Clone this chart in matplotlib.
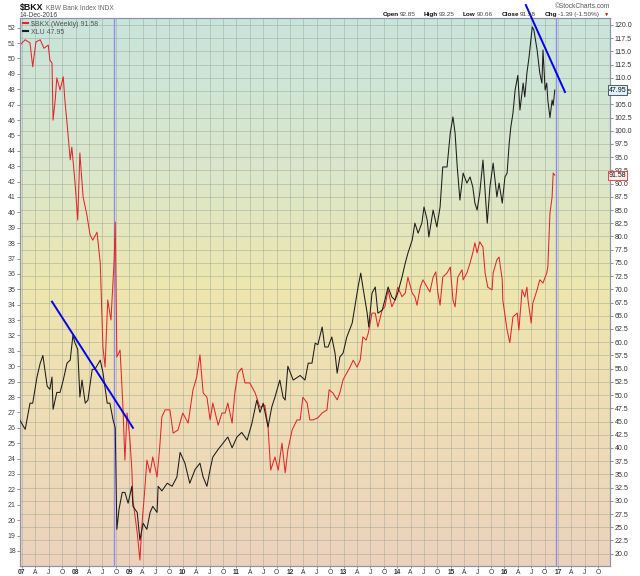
import numpy as np
import matplotlib.pyplot as plt
import matplotlib.transforms as mtransforms
from matplotlib.colors import LinearSegmentedColormap
from matplotlib.lines import Line2D
from matplotlib.ticker import FormatStrFormatter

plt.rcParams['font.family'] = ['Liberation Sans', 'DejaVu Sans']

# XLU (black, left scale)
xlu_t = [2006.96, 2007.06, 2007.15, 2007.20, 2007.28, 2007.34, 2007.39, 2007.47, 2007.52, 2007.56,
         2007.58, 2007.65, 2007.71, 2007.77, 2007.84, 2007.90, 2007.95, 2007.99, 2008.04, 2008.08,
         2008.12, 2008.18, 2008.23, 2008.31, 2008.36, 2008.46, 2008.51, 2008.59, 2008.64, 2008.70,
         2008.74, 2008.77, 2008.81, 2008.87, 2008.92, 2008.98, 2009.05, 2009.07, 2009.15, 2009.20,
         2009.26, 2009.33, 2009.39, 2009.44, 2009.52, 2009.54, 2009.61, 2009.71, 2009.80, 2009.89,
         2009.95, 2010.04, 2010.13, 2010.23, 2010.32, 2010.38, 2010.45, 2010.51, 2010.56, 2010.66,
         2010.75, 2010.84, 2010.92, 2011.01, 2011.10, 2011.20, 2011.29, 2011.38, 2011.44, 2011.50,
         2011.59, 2011.66, 2011.72, 2011.81, 2011.87, 2011.91, 2011.96, 2012.06, 2012.19, 2012.28,
         2012.34, 2012.41, 2012.47, 2012.52, 2012.60, 2012.65, 2012.71, 2012.78, 2012.84, 2012.88,
         2012.93, 2012.99, 2013.06, 2013.16, 2013.21, 2013.27, 2013.32, 2013.36, 2013.44, 2013.47,
         2013.53, 2013.59, 2013.64, 2013.72, 2013.77, 2013.83, 2013.90, 2013.96, 2014.01, 2014.09,
         2014.15, 2014.20, 2014.28, 2014.33, 2014.39, 2014.46, 2014.50, 2014.56, 2014.59, 2014.67,
         2014.74, 2014.80, 2014.85, 2014.93, 2014.99, 2015.04, 2015.08, 2015.12, 2015.17, 2015.23,
         2015.30, 2015.36, 2015.41, 2015.45, 2015.49, 2015.54, 2015.60, 2015.68, 2015.73, 2015.79,
         2015.86, 2015.90, 2015.96, 2016.01, 2016.05, 2016.09, 2016.12, 2016.16, 2016.20, 2016.25,
         2016.29, 2016.35, 2016.38, 2016.42, 2016.46, 2016.52, 2016.55, 2016.61, 2016.66, 2016.70,
         2016.72, 2016.76, 2016.79, 2016.81, 2016.85, 2016.89, 2016.91, 2016.94]
xlu_v = [26.5, 25.9, 27.6, 27.6, 29.3, 30.2, 30.7, 28.7, 28.5, 29.3,
         27.2, 28.3, 28.3, 29.1, 30.2, 30.4, 32.0, 31.5, 31.1, 28.0,
         29.1, 27.6, 27.8, 29.8, 29.8, 30.4, 29.6, 27.6, 27.6, 26.5,
         26.0, 19.4, 20.7, 21.8, 21.8, 21.1, 22.2, 20.9, 20.5, 18.7,
         19.8, 19.4, 20.5, 20.9, 20.5, 22.2, 21.9, 22.4, 22.2, 22.8,
         24.4, 23.7, 22.4, 23.3, 23.7, 22.8, 22.2, 23.3, 24.1, 24.6,
         25.0, 25.4, 24.7, 25.4, 25.7, 25.2, 26.3, 27.8, 27.0, 27.6,
         26.05, 27.35, 28.0, 29.1, 28.0, 27.8, 30.0, 29.1, 29.4, 29.1,
         30.2, 30.2, 31.5, 31.4, 32.55, 31.25, 31.25, 31.9, 30.85, 29.55,
         30.6, 30.85, 31.9, 32.8, 33.85, 35.15, 36.05, 35.15, 33.45, 32.55,
         34.75, 35.15, 33.45, 33.65, 34.3, 35.15, 34.5, 34.3, 34.75, 35.8,
         36.7, 37.35, 38.2, 39.3, 38.65, 39.3, 40.35, 39.5, 38.4, 40.15,
         39.05, 40.35, 42.95, 42.95, 45.15, 46.2, 45.15, 42.95, 40.8, 42.55,
         41.9, 42.3, 41.65, 40.6, 40.15, 41.25, 43.4, 39.3, 41.65, 43.2,
         41.0, 41.9, 40.6, 42.3, 42.55, 44.5, 45.55, 46.45, 47.95, 48.9,
         46.65, 48.4, 47.5, 49.05, 50.1, 52.05, 51.85, 50.55, 49.05, 48.4,
         50.55, 47.95, 48.4, 47.3, 46.15, 47.3, 46.95, 47.95]

# $BKX weekly (red, right scale)
bkx_t = [2006.96, 2007.06, 2007.15, 2007.20, 2007.26, 2007.34, 2007.41, 2007.49, 2007.52, 2007.56,
         2007.58, 2007.62, 2007.65, 2007.71, 2007.77, 2007.80, 2007.84, 2007.90, 2007.93, 2007.99,
         2008.04, 2008.08, 2008.14, 2008.21, 2008.27, 2008.32, 2008.40, 2008.46, 2008.51, 2008.55,
         2008.60, 2008.66, 2008.72, 2008.74, 2008.77, 2008.83, 2008.88, 2008.92, 2008.96, 2009.01,
         2009.05, 2009.07, 2009.15, 2009.20, 2009.24, 2009.29, 2009.33, 2009.39, 2009.44, 2009.52,
         2009.57, 2009.61, 2009.67, 2009.76, 2009.82, 2009.91, 2010.00, 2010.10, 2010.19, 2010.26,
         2010.32, 2010.38, 2010.45, 2010.51, 2010.56, 2010.66, 2010.73, 2010.79, 2010.84, 2010.92,
         2010.97, 2011.03, 2011.10, 2011.16, 2011.25, 2011.35, 2011.44, 2011.53, 2011.59, 2011.64,
         2011.72, 2011.78, 2011.85, 2011.91, 2011.96, 2012.04, 2012.13, 2012.19, 2012.24, 2012.32,
         2012.37, 2012.43, 2012.52, 2012.60, 2012.69, 2012.73, 2012.80, 2012.88, 2012.93, 2012.99,
         2013.06, 2013.12, 2013.18, 2013.25, 2013.31, 2013.36, 2013.42, 2013.46, 2013.53, 2013.59,
         2013.64, 2013.72, 2013.77, 2013.83, 2013.90, 2013.96, 2014.01, 2014.09, 2014.15, 2014.20,
         2014.28, 2014.33, 2014.37, 2014.43, 2014.48, 2014.56, 2014.61, 2014.67, 2014.72, 2014.76,
         2014.80, 2014.85, 2014.93, 2014.99, 2015.04, 2015.08, 2015.13, 2015.21, 2015.23, 2015.30,
         2015.36, 2015.41, 2015.45, 2015.49, 2015.54, 2015.60, 2015.64, 2015.69, 2015.77, 2015.79,
         2015.86, 2015.90, 2015.96, 2015.97, 2016.05, 2016.10, 2016.16, 2016.24, 2016.27, 2016.33,
         2016.38, 2016.42, 2016.44, 2016.50, 2016.53, 2016.61, 2016.66, 2016.72, 2016.79, 2016.81,
         2016.85, 2016.89, 2016.91, 2016.94]
bkx_v = [116.2, 117.2, 116.6, 112.1, 116.8, 117.2, 115.6, 116.2, 113.4, 112.8,
         102.0, 105.8, 110.0, 107.7, 110.2, 105.8, 101.5, 94.5, 96.9, 90.1,
         83.1, 95.8, 87.5, 84.1, 80.3, 79.3, 80.8, 75.0, 59.1, 55.3,
         68.0, 64.2, 75.6, 82.7, 57.2, 58.5, 48.5, 37.7, 46.6, 42.1,
         35.8, 30.2, 23.9, 18.8, 25.8, 32.0, 37.7, 35.3, 38.3, 34.5,
         40.2, 45.9, 47.2, 47.2, 42.8, 43.4, 46.6, 44.7, 51.0, 53.4,
         57.6, 50.4, 49.6, 45.3, 48.5, 44.3, 46.6, 46.6, 48.5, 44.7,
         50.4, 54.2, 55.1, 52.3, 52.3, 50.4, 47.7, 48.1, 44.0, 35.8,
         38.3, 35.8, 40.9, 35.3, 39.6, 43.4, 45.3, 45.3, 49.6, 48.5,
         45.3, 45.3, 45.7, 46.6, 47.2, 51.0, 50.4, 49.1, 50.4, 52.9,
         54.2, 55.3, 56.6, 55.3, 56.6, 61.0, 60.4, 61.7, 65.5, 65.5,
         62.9, 66.1, 66.7, 69.9, 66.7, 68.0, 70.4, 68.6, 69.3, 72.3,
         69.3, 68.6, 67.0, 70.4, 71.8, 70.4, 69.5, 72.3, 73.3, 69.3,
         67.0, 72.3, 73.1, 74.2, 68.0, 66.7, 72.3, 73.7, 71.8, 73.1,
         75.0, 76.9, 78.8, 76.9, 79.0, 78.0, 73.1, 70.4, 69.9, 73.1,
         75.6, 76.1, 71.8, 68.0, 62.3, 59.9, 64.8, 65.5, 62.3, 69.9,
         68.6, 70.4, 68.0, 63.6, 67.4, 69.9, 71.8, 71.2, 73.1, 74.2,
         84.4, 87.5, 92.0, 91.6]

# trend lines (left scale) and marker dates
trend1_t = [2007.56, 2009.07]
trend1_v = [34.2, 26.0]
trend2_t = [2016.40, 2017.13]
trend2_v = [53.47, 47.82]
vline_dates = [2008.72, 2016.97]

xlu_last = 47.95
bkx_last = 91.58

quarters = 2007 + np.arange(44) * 0.25
qlabels = []
for i in range(44):
    if i % 4 == 0:
        qlabels.append('%02d' % (7 + i // 4))
    else:
        qlabels.append(['A', 'J', 'O'][i % 4 - 1])

W, H = 640, 576
fig = plt.figure(figsize=(W / 100, H / 100), dpi=100)
ax = fig.add_axes([20 / W, 1 - 566 / H, 590 / W, 548 / H])
axl = ax.twinx()
ax.yaxis.tick_right()
axl.yaxis.tick_left()

# background gradient
cmap = LinearSegmentedColormap.from_list('bg', [
    (0.0, '#c8e4dc'), (0.28, '#dbe7cb'), (0.5, '#eee6ae'),
    (0.75, '#efdcb6'), (1.0, '#ecd2bd')])
grad = np.linspace(0, 1, 256).reshape(-1, 1)
ax.imshow(grad, cmap=cmap, extent=[0, 1, 0, 1], transform=ax.transAxes,
          aspect='auto', origin='upper', zorder=0)

ax.set_xlim(2006.963, 2017.97)
ax.set_ylim(17.67, 121.32)
axl.set_ylim(17.02, 52.63)

ax.set_xticks(quarters)
ax.set_xticklabels(qlabels)
for i, lbl in enumerate(ax.get_xticklabels()):
    if i % 4 == 0:
        lbl.set_fontweight('bold')
ax.set_yticks(np.arange(20, 120.1, 2.5))
ax.yaxis.set_major_formatter(FormatStrFormatter('%.1f'))
axl.set_yticks(np.arange(18, 53, 1))

ax.grid(True, color='#9aa596', alpha=0.55, lw=0.6)
ax.tick_params(axis='y', labelsize=5, length=2, width=0.5, color='#666',
               pad=1.5, labelcolor='#333')
ax.tick_params(axis='x', labelsize=4.8, length=1.5, width=0.5, color='#666',
               pad=0.3, labelcolor='#333')
axl.tick_params(axis='y', labelsize=5, length=2, width=0.5, color='#666',
                pad=1, labelcolor='#444')
for a in (ax, axl):
    for s in a.spines.values():
        s.set_color('#8c94a8')
        s.set_linewidth(0.8)

for d in vline_dates:
    ax.axvline(d, color='#8e8ef0', lw=1, zorder=2)

ax.plot(bkx_t, bkx_v, color='#e3262b', lw=0.75, zorder=3)
axl.plot(xlu_t, xlu_v, color='#1c1c1c', lw=0.75, zorder=3)

axl.plot(trend1_t, trend1_v, color='#0000f0', lw=1.4, zorder=5)
axl.plot(trend2_t, trend2_v, color='#0000f0', lw=1.4, zorder=5, clip_on=False)

# last value boxes on the right scale
tr_l = mtransforms.blended_transform_factory(ax.transAxes, axl.transData)
tr_r = mtransforms.blended_transform_factory(ax.transAxes, ax.transData)
axl.text(0.998, xlu_last, '%.2f' % xlu_last, transform=tr_l, fontsize=5,
         va='center', ha='left', color='#111', clip_on=False, zorder=10,
         bbox=dict(boxstyle='square,pad=0.15', fc='#dff0f8', ec='#334455', lw=0.6))
axl.text(0.998, bkx_last, '%.2f' % bkx_last, transform=tr_r, fontsize=5,
         va='center', ha='left', color='#111', clip_on=False, zorder=10,
         bbox=dict(boxstyle='square,pad=0.15', fc='#fdeeee', ec='#e03030', lw=0.6))

axl.legend(handles=[Line2D([], [], color='#e3262b', lw=1.5),
                    Line2D([], [], color='#1c1c1c', lw=1.5)],
           labels=[r'\$BKX (Weekly) %.2f' % bkx_last, 'XLU %.2f' % xlu_last],
           loc='upper left', bbox_to_anchor=(0, 1), frameon=False, fontsize=5,
           handlelength=0.7, handletextpad=0.5, labelspacing=0.15,
           borderaxespad=0.2, borderpad=0.2, labelcolor='#555')


def ftxt(x, y, s, **kw):
    fig.text(x / W, 1 - y / H, s, va='baseline', **kw)


ftxt(20, 10, r'\$BKX', fontsize=6.3, fontweight='bold', color='#111')
ftxt(46, 10, 'KBW Bank Index INDX', fontsize=4.8, color='#666')
ftxt(20, 17, '14-Dec-2016', fontsize=4.8, color='#444')
ftxt(610, 8, '\u00a9StockCharts.com', fontsize=4.8, color='#555', ha='right')

header = [(383, 'Open', True), (400, '92.85', False), (424, 'High', True),
          (439, '93.25', False), (463, 'Low', True), (477, '90.66', False),
          (502, 'Close', True), (520, '91.58', False), (545, 'Chg', True),
          (558.5, '-1.39 (-1.50%)', False)]
for x, s, b in header:
    ftxt(x, 16, s, fontsize=4.6, color='#111' if b else '#444',
         fontweight='bold' if b else 'normal')
ftxt(604, 16, '\u25bc', fontsize=3.8, color='#cc0000')

fig.savefig('out.png', dpi=100)
